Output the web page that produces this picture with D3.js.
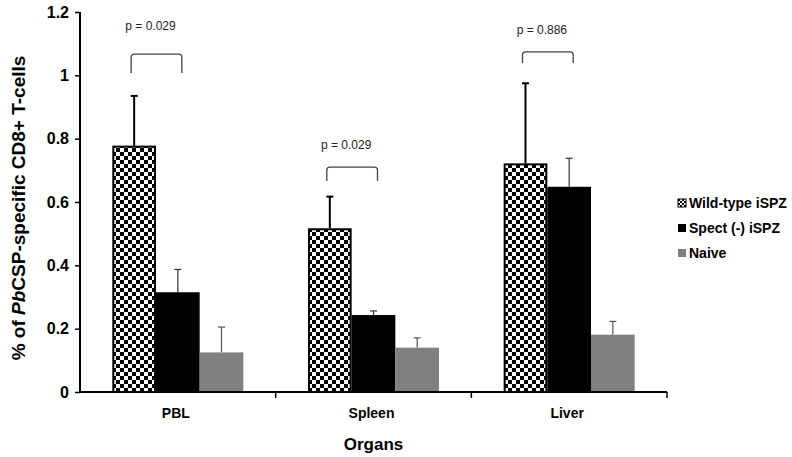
<!DOCTYPE html>
<html><head><meta charset="utf-8">
<script src="https://cdn.jsdelivr.net/npm/d3@7"></script>
<style>body{margin:0;background:#fff}svg{display:block;font-family:Arial,"Liberation Sans",sans-serif}</style>
</head><body>
<svg id="c" width="792" height="457"></svg>
<script>
const categories = ["PBL", "Spleen", "Liver"];
const seriesNames = ["Wild-type iSPZ", "Spect (-) iSPZ", "Naive"];
const wildType = [0.778, 0.517, 0.722];
const wildTypeErr = [0.157, 0.100, 0.253];
const spect = [0.315, 0.243, 0.648];
const spectErr = [0.072, 0.013, 0.090];
const naive = [0.125, 0.140, 0.181];
const naiveErr = [0.080, 0.031, 0.042];
const yTicks = [0, 0.2, 0.4, 0.6, 0.8, 1, 1.2];
const pLabels = ["p = 0.029", "p = 0.029", "p = 0.886"];
const bracketTop = [1.067, 0.71, 1.074];
const bracketLeg = [1.007, 0.666, 1.039];
const pTextY = [1.142, 0.766, 1.132];

(function () {
const values = [wildType, spect, naive];
const errs = [wildTypeErr, spectErr, naiveErr];
const svg = d3.select("#c");
const mLeft = 80, mRight = 667, mTop = 12, mBottom = 392;

const y = d3.scaleLinear().domain([0, 1.2]).range([mBottom, mTop]);
const x0 = d3.scaleBand().domain(categories).range([mLeft, mRight]).padding(0);
const x1 = d3.scaleBand().domain(seriesNames).range([0, x0.bandwidth()]).paddingInner(0).paddingOuter(0.74);

const defs = svg.append("defs");
const pat = defs.append("pattern").attr("id", "chk").attr("patternUnits", "userSpaceOnUse")
  .attr("width", 8).attr("height", 8);
pat.append("rect").attr("width", 8).attr("height", 8).attr("fill", "#fff");
pat.append("rect").attr("width", 4).attr("height", 4).attr("fill", "#000");
pat.append("rect").attr("x", 4).attr("y", 4).attr("width", 4).attr("height", 4).attr("fill", "#000");
const pat2 = defs.append("pattern").attr("id", "chkS").attr("patternUnits", "userSpaceOnUse")
  .attr("width", 4).attr("height", 4);
pat2.append("rect").attr("width", 4).attr("height", 4).attr("fill", "#fff");
pat2.append("rect").attr("width", 2).attr("height", 2).attr("fill", "#000");
pat2.append("rect").attr("x", 2).attr("y", 2).attr("width", 2).attr("height", 2).attr("fill", "#000");

const fills = ["url(#chk)", "#000", "#808080"];
const errColor = ["#000", "#333", "#555"];
const errWidth = [2, 1.2, 1.2];

seriesNames.forEach((s, si) => {
  const g = svg.append("g");
  categories.forEach((c, ci) => {
    const bx = x0(c) + x1(s), bw = x1.bandwidth(), v = values[si][ci], e = errs[si][ci];
    const cx = bx + bw / 2;
    g.append("line").attr("x1", cx).attr("x2", cx).attr("y1", y(v)).attr("y2", y(v + e))
      .attr("stroke", errColor[si]).attr("stroke-width", errWidth[si]);
    g.append("line").attr("x1", cx - 3.5).attr("x2", cx + 3.5).attr("y1", y(v + e)).attr("y2", y(v + e))
      .attr("stroke", errColor[si]).attr("stroke-width", errWidth[si]);
    if (si === 0) {
      g.append("rect").attr("x", bx + 1).attr("y", y(v) + 1).attr("width", bw - 2).attr("height", y(0) - y(v) - 1)
        .attr("fill", fills[si]).attr("stroke", "#000").attr("stroke-width", 2);
    } else {
      g.append("rect").attr("x", bx).attr("y", y(v)).attr("width", bw).attr("height", y(0) - y(v))
        .attr("fill", fills[si]);
    }
  });
});

categories.forEach((c, ci) => {
  const xa = x0(c) + x1(seriesNames[0]) + x1.bandwidth() / 2 - 3;
  const xb = x0(c) + x1(seriesNames[1]) + x1.bandwidth() / 2 + 4;
  const yt = y(bracketTop[ci]), yl = y(bracketLeg[ci]);
  const r = 3;
  svg.append("path")
    .attr("d", `M${xa},${yl} L${xa},${yt + r} Q${xa},${yt} ${xa + r},${yt} L${xb - r},${yt} Q${xb},${yt} ${xb},${yt + r} L${xb},${yl}`)
    .attr("fill", "none").attr("stroke", "#444").attr("stroke-width", 1.3);
  svg.append("text").attr("x", (xa + xb) / 2 - 6).attr("y", y(pTextY[ci]))
    .attr("text-anchor", "middle").attr("font-size", 12).attr("fill", "#222").text(pLabels[ci]);
});

const yAxis = d3.axisLeft(y).tickValues(yTicks).tickFormat(d3.format("~g")).tickSize(5).tickSizeOuter(0);
const ya = svg.append("g").attr("transform", `translate(${mLeft},0)`).call(yAxis);
ya.select(".domain").attr("stroke", "#000").attr("stroke-width", 2).attr("d", `M0,${mTop}V${mBottom}`);
ya.selectAll(".tick line").attr("stroke", "#000").attr("stroke-width", 1.5);
ya.selectAll(".tick text").attr("font-size", 16).attr("font-weight", "bold").attr("fill", "#000")
  .attr("font-family", "Arial, 'Liberation Sans', sans-serif").attr("x", -11);

const xg = svg.append("g").attr("transform", `translate(0,${mBottom})`);
xg.append("line").attr("x1", mLeft).attr("x2", mRight).attr("stroke", "#000").attr("stroke-width", 2);
const bounds = categories.map(c => x0(c) + x0.bandwidth());
xg.selectAll(".tk").data(bounds).join("line").attr("class", "tk").attr("x1", d => d).attr("x2", d => d).attr("y1", 0).attr("y2", 6)
  .attr("stroke", "#000").attr("stroke-width", 1.5);
xg.selectAll(".lbl").data(categories).join("text").attr("class", "lbl")
  .attr("x", d => x0(d) + x0.bandwidth() / 2 - 2).attr("y", 26).attr("text-anchor", "middle")
  .attr("font-size", 14).attr("font-weight", "bold").text(d => d);

svg.append("text").attr("x", (mLeft + mRight) / 2).attr("y", 450).attr("text-anchor", "middle")
  .attr("font-size", 17).attr("font-weight", "bold").text("Organs");

const ytl = svg.append("text").attr("transform", `translate(25,${(mTop + mBottom) / 2 + 6}) rotate(-90)`)
  .attr("text-anchor", "middle").attr("font-size", 19).attr("font-weight", "bold");
ytl.append("tspan").text("% of ");
ytl.append("tspan").attr("font-style", "italic").text("Pb");
ytl.append("tspan").text("CSP-specific CD8+ T-cells");

const legY = [203, 228, 253];
const legFill = ["url(#chkS)", "#000", "#808080"];
seriesNames.forEach((s, i) => {
  const g = svg.append("g").attr("transform", `translate(678,${legY[i]})`);
  g.append("rect").attr("x", 0).attr("y", -4).attr("width", 8).attr("height", 8).attr("fill", legFill[i])
    .attr("stroke", i === 0 ? "#000" : "none").attr("stroke-width", 1);
  g.append("text").attr("x", 11).attr("y", 5).attr("font-size", 14).attr("font-weight", "bold").text(s);
});
})();
</script>
</body></html>
